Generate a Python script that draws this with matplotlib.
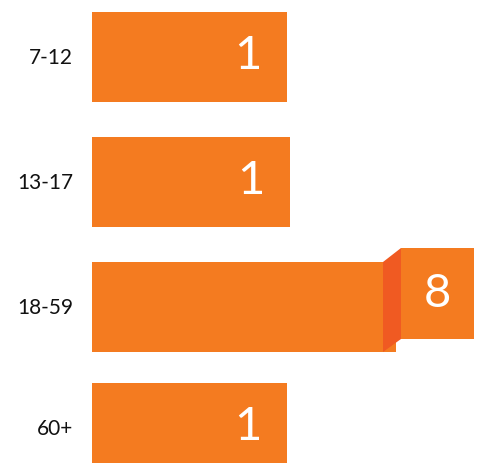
import matplotlib
matplotlib.use('Agg')
import matplotlib.pyplot as plt
from matplotlib.patches import Polygon, Rectangle

# data
categories = ['7-12', '13-17', '18-59', '60+']
values = [1, 1, 8, 1]
bar_lengths = [195, 198, 304, 195]   # drawn length of each bar (pixel-like units)
highlight = 2                         # index of the bar that gets the folded flag

orange = '#F47B20'
dark = '#F05A22'

fig = plt.figure(figsize=(4.81, 4.63), dpi=100)
ax = fig.add_axes([0, 0, 1, 1])
ax.set_xlim(0, 481)
ax.set_ylim(463, 0)
ax.axis('off')

left = 92
bar_h = 90
y_centers = [57, 182, 307, 428]

ax.barh(y_centers, bar_lengths, left=left, height=bar_h, color=orange, linewidth=0)

for i, (cat, val, ln, yc) in enumerate(zip(categories, values, bar_lengths, y_centers)):
    ax.text(73, yc + 1, cat, ha='right', va='center', fontsize=15,
            family='Lato', color='#111111')
    end = left + ln
    if i == highlight:
        top = yc - bar_h / 2
        bot = yc + bar_h / 2
        # folded bit
        fold = Polygon([(end - 13, top), (end + 5, top - 14), (end + 5, bot - 13), (end - 13, bot)],
                       closed=True, facecolor=dark, edgecolor='none')
        ax.add_patch(fold)
        flag = Rectangle((end + 5, top - 14), 73, 91, facecolor=orange, edgecolor='none')
        ax.add_patch(flag)
        ax.text(end + 5 + 36.5, top - 14 + 46, str(val), ha='center', va='center',
                fontsize=34, family='Lato', color='white')
    else:
        ax.text(end - 25, yc - 1, str(val), ha='right', va='center',
                fontsize=34, family='Lato', color='white')

fig.savefig('out.png', dpi=100)
